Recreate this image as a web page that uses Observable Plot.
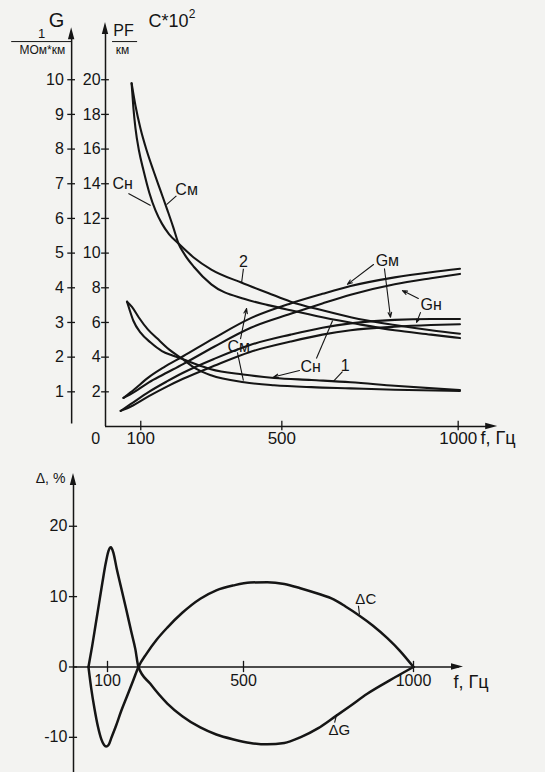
<!DOCTYPE html>
<html><head><meta charset="utf-8">
<script src="https://cdn.jsdelivr.net/npm/d3@7"></script>
<script src="https://cdn.jsdelivr.net/npm/@observablehq/plot@0.6"></script>
<style>
html,body{margin:0;padding:0;background:#f3f3f1;}
#wrap{width:545px;height:772px;overflow:hidden;}
#wrap svg{display:block;}
</style></head><body><div id="wrap"></div>
<script>
// ---------- DATA ----------
// top chart: frequency f (Hz) vs C (pF/km); G (1/MOhm*km) = C/2 on the left scale
const topFreqTicks = [100, 500, 1000];
const cTicks = [2, 4, 6, 8, 10, 12, 14, 16, 18, 20];
const gTickLabels = ["1", "2", "3", "4", "5", "6", "7", "8", "9", "10"];

// set 2 capacitance curves
const cN2 = [[74,19.8],[79,18.4],[85,17.2],[95,15.9],[108,14.75],[124,13.5],[142,12.45],[160,11.7],[180,11.1],[207,10.55],[250,9.75],[300,9.05],[385,8.3],[461,7.7],[525,7.2],[615,6.7],[718,6.2],[820,5.85],[923,5.55],[1005,5.35]];
const cM2 = [[74,19.8],[85,18.5],[99,17.2],[117,15.9],[136,14.75],[156,13.6],[176,12.45],[192,11.5],[207,10.55],[225,9.9],[251,9.2],[300,8.2],[395,7.35],[461,7.0],[525,6.7],[615,6.3],[718,5.9],[820,5.55],[923,5.3],[1005,5.1]];
// set 1 capacitance curves
const cN1 = [[61,7.2],[68,6.75],[79,6.1],[100,5.4],[128,4.84],[160,4.35],[190,4.1],[218,3.9],[255,3.6],[299,3.3],[390,3.0],[478,2.8],[584,2.68],[695,2.55],[820,2.35],[1005,2.1]];
const cM1 = [[61,7.2],[75,6.9],[94,6.3],[120,5.6],[147,5.07],[180,4.45],[218,3.9],[255,3.35],[299,2.95],[393,2.55],[478,2.38],[584,2.27],[695,2.2],[820,2.12],[1005,2.05]];
// conductance curves (plotted against the right-hand C scale)
const gM2 = [[51,1.65],[82,2.15],[123,2.85],[164,3.4],[220,4.05],[308,5.1],[412,6.25],[525,7.1],[615,7.65],[695,8.1],[820,8.6],[923,8.9],[1005,9.1]];
const gN2 = [[51,1.65],[82,2.0],[123,2.55],[164,3.0],[220,3.6],[308,4.6],[412,5.7],[525,6.5],[615,7.1],[695,7.6],[820,8.2],[923,8.55],[1005,8.8]];
const gM1 = [[43,0.9],[72,1.3],[123,2.0],[174,2.6],[220,3.1],[308,3.9],[410,4.7],[525,5.3],[615,5.7],[695,5.95],[820,6.15],[923,6.2],[1005,6.2]];
const gN1 = [[43,0.9],[72,1.15],[123,1.75],[174,2.3],[220,2.75],[308,3.5],[410,4.3],[525,4.9],[615,5.3],[695,5.55],[820,5.75],[923,5.85],[1005,5.9]];

// bottom chart: delta, %
const deltaTicks = [20, 10, 0, -10];
const deltaFreqTicks = [100, 500, 1000];
const dG = [[44,0],[55,3],[65,6],[75,9],[85,12],[95,14.8],[103,16.5],[110,17],[117,16.3],[127,14],[140,11.3],[155,8.2],[170,5],[182,2.5],[191,0],[226,-2.4],[276,-5.2],[320,-7.0],[373,-8.6],[420,-9.6],[471,-10.3],[520,-10.8],[570,-11],[620,-10.8],[667,-10],[720,-8.7],[765,-7.2],[815,-5.5],[864,-3.8],[930,-1.9],[1000,0]];
const dC = [[44,0],[52,-3],[62,-6],[72,-8.5],[82,-10.3],[90,-11.1],[96,-11.3],[103,-11.1],[112,-10],[124,-8.5],[140,-6.3],[158,-4.1],[175,-2],[191,0],[215,1.9],[245,3.9],[276,5.6],[320,7.7],[373,9.7],[420,10.9],[471,11.6],[520,12],[570,12.05],[620,11.8],[667,11.2],[720,10.4],[765,9.6],[800,8.6],[838,7.4],[880,5.9],[923,4.1],[960,2.3],[1000,0]];

// ---------- STYLE / HELPERS ----------
const ink = "#151515";
const font = "'Liberation Sans', Arial, Helvetica, sans-serif";

function curve(data, w) {
  return Plot.line(data, {x: d => d[0], y: d => d[1], curve: "monotone-x",
    stroke: ink, strokeWidth: w, strokeLinejoin: "round", strokeLinecap: "round"});
}
function heads(list) {
  return (index, scales) => {
    const g = d3.create("svg:g").attr("fill", ink);
    for (const h of list) {
      const px = scales.x(h.x), py = scales.y(h.y);
      const pts = h.dir === "up"
        ? [[px, py], [px - 3.2, py + 12], [px + 3.2, py + 12]]
        : [[px, py], [px - 12, py - 3.2], [px - 12, py + 3.2]];
      g.append("polygon").attr("points", pts.map(p => p.join(",")).join(" "));
    }
    return g.node();
  };
}
function label(t, x, y, size, anchor) {
  return Plot.text([t], {x: () => x, y: () => y, text: d => d, fontSize: size,
    textAnchor: anchor || "start", fill: ink});
}
function links(list, arrow) {
  const opts = {x1: "x1", y1: "y1", x2: "x2", y2: "y2", stroke: ink, strokeWidth: 1.1};
  return arrow ? Plot.arrow(list, {...opts, headLength: 7, headAngle: 40}) : Plot.link(list, opts);
}

// ---------- TOP CHART ----------
const gAx = -96;
const topChart = Plot.plot({
  width: 545, height: 460,
  marginLeft: 105, marginRight: 45, marginTop: 22, marginBottom: 34,
  x: {domain: [0, 1120], axis: null},
  y: {domain: [0, 23.3], axis: null},
  style: {background: "transparent", fontFamily: font, overflow: "visible"},
  marks: [
    Plot.ruleX([0], {y1: 0, y2: 22.7, stroke: ink, strokeWidth: 1.5}),
    Plot.ruleX([gAx], {y1: 0.15, y2: 22.4, stroke: ink, strokeWidth: 1.5}),
    Plot.ruleY([0], {x1: 0, x2: 1090, stroke: ink, strokeWidth: 1.5}),
    heads([{x: 0, y: 23.3, dir: "up"}, {x: gAx, y: 23.0, dir: "up"}, {x: 1112, y: 0, dir: "right"}]),
    Plot.ruleY(cTicks, {y: d => d, x1: -11, x2: 11, stroke: ink, strokeWidth: 1.3}),
    Plot.ruleY(cTicks, {y: d => d, x1: gAx - 11, x2: gAx + 11, stroke: ink, strokeWidth: 1.3}),
    Plot.text(cTicks, {x: -14, y: d => d, text: d => `${d}`, textAnchor: "end", fontSize: 16, fill: ink}),
    Plot.text(gTickLabels, {x: gAx - 22, y: (d, i) => cTicks[i], text: d => d, textAnchor: "end", fontSize: 16, fill: ink}),
    Plot.ruleX(topFreqTicks, {x: d => d, y1: -0.25, y2: 0.3, stroke: ink, strokeWidth: 1.3}),
    Plot.text(topFreqTicks, {x: d => d, y: -0.69, text: d => `${d}`, fontSize: 17, fill: ink}),
    label("0", -28, -0.69, 16, "middle"),
    label("f, Гц", 1063, -0.69, 18),
    // axis titles
    label("G", -139, 23.4, 20, "middle"),
    label("1", -181, 22.66, 13, "middle"),
    Plot.ruleY([22.2], {x1: -266, x2: gAx, stroke: ink, strokeWidth: 1}),
    label("МОм*км", -179, 21.7, 12, "middle"),
    label("PF", 51, 22.84, 16, "middle"),
    Plot.ruleY([22.2], {x1: 20, x2: 91, stroke: ink, strokeWidth: 1}),
    label("км", 48, 21.7, 12, "middle"),
    label("C*10", 122, 23.36, 18),
    label("2", 236, 23.8, 12),
    // curves
    curve(cN2, 2.1), curve(cM2, 2.1), curve(cN1, 2.1), curve(cM1, 2.1),
    curve(gM2, 2.1), curve(gN2, 2.1), curve(gM1, 2.1), curve(gN1, 2.1),
    // annotations
    links([
      {x1: 65, y1: 13.44, x2: 128, y2: 12.75},
      {x1: 201, y1: 13.3, x2: 173, y2: 12.8},
      {x1: 391, y1: 9.1, x2: 386, y2: 8.3},
      {x1: 598, y1: 3.92, x2: 644, y2: 6.11},
      {x1: 374, y1: 4.27, x2: 391, y2: 2.65},
      {x1: 672, y1: 3.17, x2: 646, y2: 2.6}
    ], false),
    links([
      {x1: 760, y1: 9.34, x2: 686, y2: 8.2},
      {x1: 791, y1: 9.1, x2: 808, y2: 6.3},
      {x1: 887, y1: 7.38, x2: 842, y2: 7.84},
      {x1: 893, y1: 6.57, x2: 882, y2: 6.0},
      {x1: 550, y1: 3.23, x2: 476, y2: 2.85},
      {x1: 383, y1: 5.07, x2: 400, y2: 6.8}
    ], true),
    label("Cн", 20, 14.0, 16),
    label("Cм", 198, 13.67, 16),
    label("2", 391, 9.5, 16, "middle"),
    label("Gм", 766, 9.57, 16),
    label("Gн", 893, 7.03, 16),
    label("Cн", 553, 3.46, 16),
    label("Cм", 346, 4.6, 16),
    label("1", 680, 3.52, 16, "middle")
  ]
});

// ---------- BOTTOM CHART ----------
const bottomChart = Plot.plot({
  width: 545, height: 312,
  marginLeft: 73, marginRight: 81, marginTop: 13, marginBottom: 0,
  x: {domain: [0, 1150], axis: null},
  y: {domain: [-15, 27.5], axis: null},
  style: {background: "transparent", fontFamily: font, overflow: "visible"},
  marks: [
    Plot.ruleX([0], {y1: -15, y2: 26.5, stroke: ink, strokeWidth: 1.5}),
    Plot.ruleY([0], {x1: 0, x2: 1135, stroke: ink, strokeWidth: 1.5}),
    heads([{x: 0, y: 27.5, dir: "up"}, {x: 1147, y: 0, dir: "right"}]),
    Plot.ruleY(deltaTicks, {y: d => d, x1: -12, x2: 12, stroke: ink, strokeWidth: 1.3}),
    Plot.text(deltaTicks, {x: -18, y: d => d, text: d => `${d}`, textAnchor: "end", fontSize: 16, fill: ink}),
    Plot.ruleX(deltaFreqTicks, {x: d => d, y1: -0.8, y2: 0.8, stroke: ink, strokeWidth: 1.3}),
    Plot.text(deltaFreqTicks, {x: d => d, y: -1.95, text: d => `${d}`, fontSize: 16, fill: ink}),
    label("f, Гц", 1118, -2.2, 18),
    label("Δ, %", -24, 26.8, 14, "end"),
    curve(dG, 2.5), curve(dC, 2.5),
    links([
      {x1: 838, y1: 8.7, x2: 841, y2: 7.5},
      {x1: 768, y1: -7.9, x2: 774, y2: -6.7}
    ], false),
    label("ΔC", 829, 9.7, 15),
    label("ΔG", 750, -9.0, 15)
  ]
});

const wrap = document.getElementById("wrap");
wrap.appendChild(topChart);
wrap.appendChild(bottomChart);
</script></body></html>
